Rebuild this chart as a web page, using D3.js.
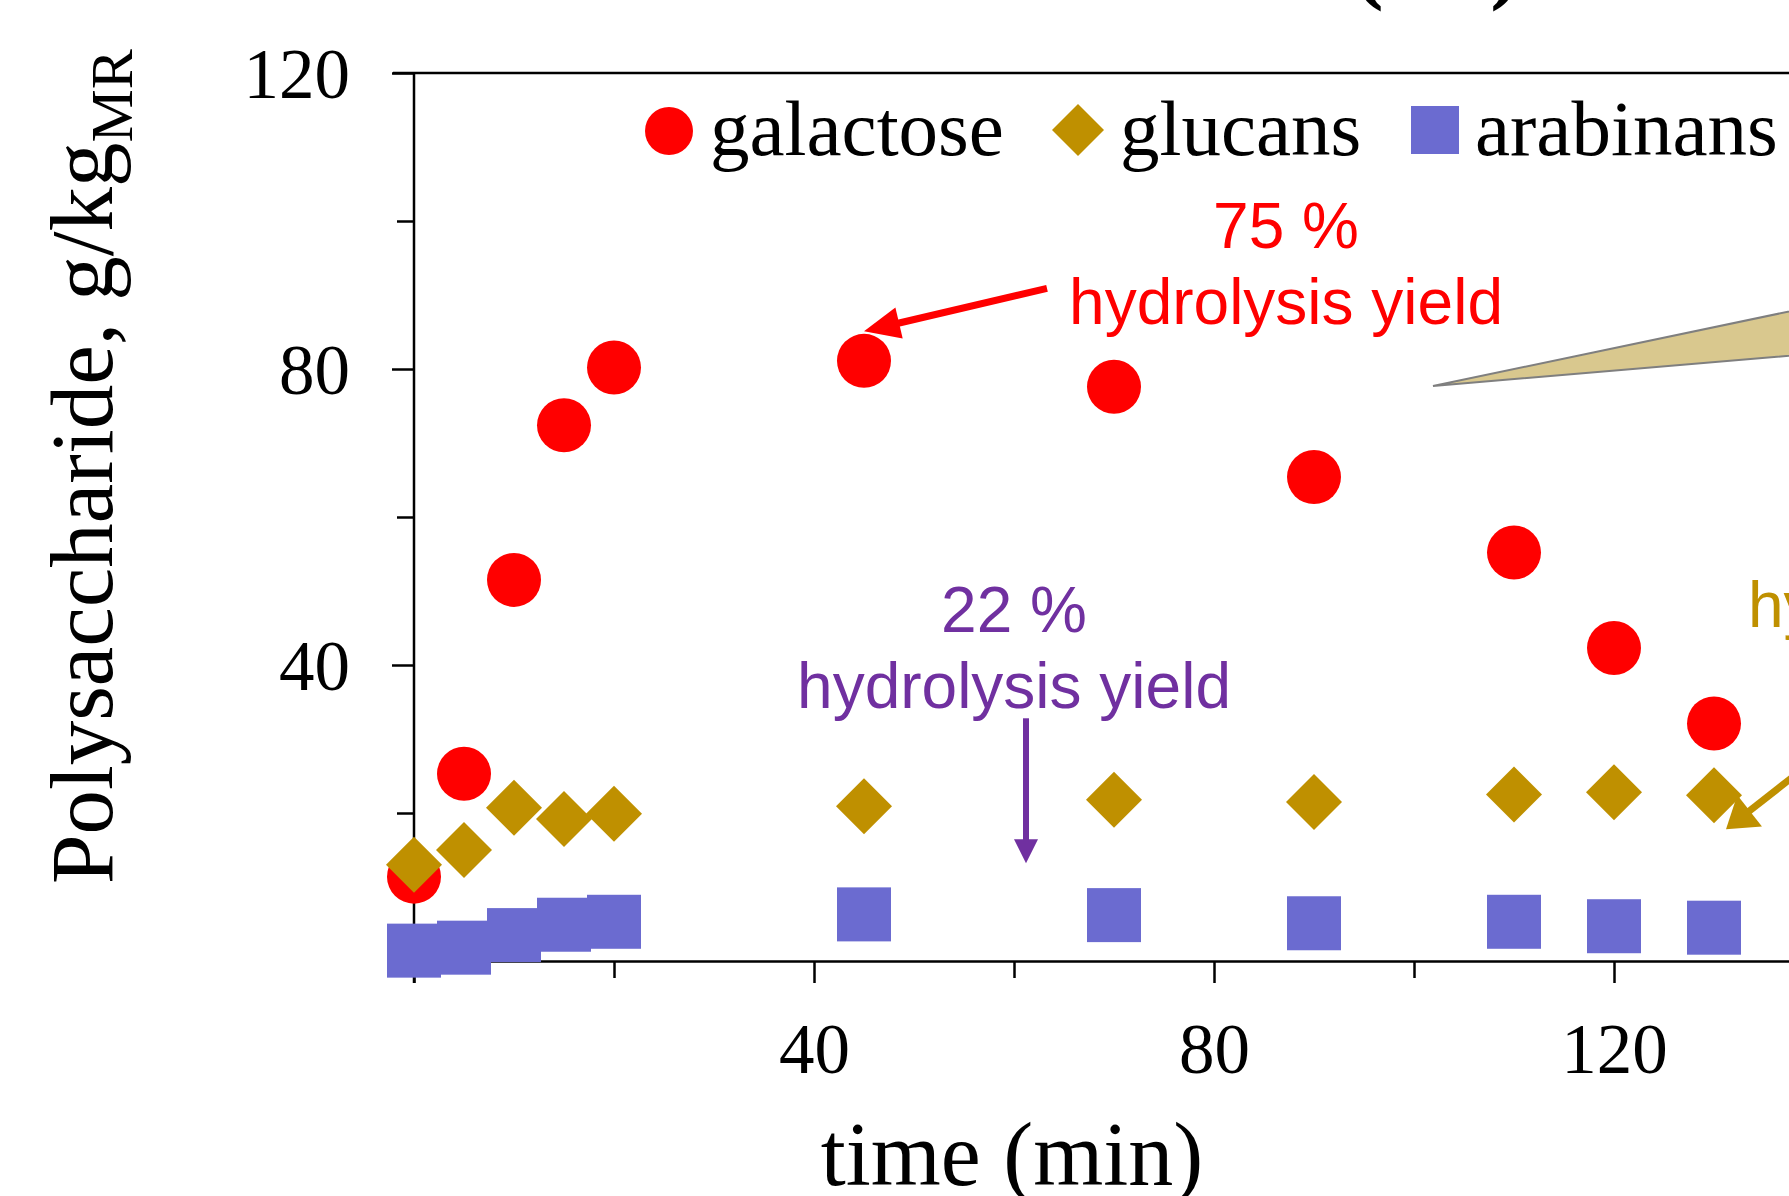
<!DOCTYPE html>
<html>
<head>
<meta charset="utf-8">
<script src="https://cdn.jsdelivr.net/npm/d3@7"></script>
<style>
  html, body { margin: 0; padding: 0; background: #fff; overflow: hidden; }
  svg { display: block; }
  .axis path, .axis line { stroke: #000; stroke-width: 2.5; }
  .axis text { font-family: "Liberation Serif", "Times New Roman", serif; fill: #000; }
</style>
</head>
<body>
<script>
// sampling times (min)
let times = [0, 5, 10, 15, 20, 45, 70, 90, 110, 120, 130];
// polysaccharide content, g/kg MR
let galactose = [11.4, 25.3, 51.5, 72.4, 80.2, 81.1, 77.6, 65.4, 55.2, 42.3, 32.1];
let glucans   = [13.0, 15.0, 20.7, 19.2, 19.9, 20.9, 21.8, 21.5, 22.5, 22.8, 22.4];
let arabinans = [1.4, 1.8, 3.5, 4.9, 5.3, 6.3, 6.2, 5.1, 5.3, 4.7, 4.5];

let xTicks = [0, 20, 40, 60, 80, 100, 120, 140];
let yTicks = [0, 20, 40, 60, 80, 100, 120];
let labelledTicks = [40, 80, 120];

let width = 1789, height = 1196;
let margin = {top: 73, left: 414, bottom: 235};

let x = d3.scaleLinear().domain([0, 140]).range([margin.left, margin.left + 1400]);
let y = d3.scaleLinear().domain([0, 120]).range([height - margin.bottom, margin.top]);

let svg = d3.select("body").append("svg")
    .attr("width", width)
    .attr("height", height);

// title, mostly cut off at the top of the figure
svg.append("text")
    .attr("x", 1353).attr("y", -8)
    .attr("textLength", 168).attr("lengthAdjust", "spacing")
    .style("font-family", "Liberation Serif, serif")
    .style("font-weight", "bold")
    .style("font-size", "92px")
    .text("(b)");

// frame line on top
svg.append("line")
    .attr("x1", x(0) - 21).attr("x2", width + 10)
    .attr("y1", y(120)).attr("y2", y(120))
    .attr("stroke", "#000").attr("stroke-width", 2.5);

// axes
let xAxis = svg.append("g")
    .attr("class", "axis")
    .attr("transform", "translate(0," + y(0) + ")")
    .call(d3.axisBottom(x).tickValues(xTicks).tickSizeOuter(0)
        .tickFormat(d => labelledTicks.indexOf(d) >= 0 ? d : ""));
xAxis.selectAll(".tick line").attr("y2", d => d % 40 == 0 ? 22 : 17);
xAxis.selectAll(".tick text")
    .attr("y", 112).attr("dy", 0)
    .style("font-size", "71px");

let yAxis = svg.append("g")
    .attr("class", "axis")
    .attr("transform", "translate(" + x(0) + ",0)")
    .call(d3.axisLeft(y).tickValues(yTicks).tickSizeOuter(0)
        .tickFormat(d => labelledTicks.indexOf(d) >= 0 ? d : ""));
yAxis.select(".domain").attr("d", "M0," + y(120) + "V" + (y(0) + 22));
yAxis.selectAll(".tick line").attr("x2", d => d % 40 == 0 ? -22 : -17);
yAxis.selectAll(".tick text")
    .attr("x", -64).attr("dy", "0.35em")
    .style("font-size", "71px");

// axis titles
svg.append("text")
    .attr("x", 1012).attr("y", 1185)
    .attr("text-anchor", "middle")
    .style("font-family", "Liberation Serif, serif")
    .style("font-size", "90px")
    .text("time (min)");

let ylab = svg.append("text")
    .attr("transform", "translate(112,884) rotate(-90)")
    .style("font-family", "Liberation Serif, serif")
    .style("font-size", "89px");
ylab.append("tspan").text("Polysaccharide, g/kg");
ylab.append("tspan").attr("dy", 20).style("font-size", "60px").text("MR");

// callout wedge coming from the right
let wedge = [[101.9, 77.7], [143.6, 89.5], [143.6, 82.5]];
svg.append("path")
    .attr("d", "M" + wedge.map(p => x(p[0]) + "," + y(p[1])).join("L") + "Z")
    .attr("fill", "#D9C88E")
    .attr("stroke", "#7F7F7F")
    .attr("stroke-width", 2);

// annotations: text lines and arrows (data coords)
let notes = [
    {lines: ["75 %", "hydrolysis yield"], at: [87.2, 96.4], anchor: "middle", color: "#FF0000"},
    {lines: ["22 %", "hydrolysis yield"], at: [60.0, 44.5], anchor: "middle", color: "#7030A0"},
    {lines: ["", "hydrolysis yield"], at: [133.4, 55.4], anchor: "start", color: "#BF9000"}
];
let arrows = [
    {from: [63.3, 90.9], to: [45.0, 85.1], color: "#FF0000", w: 7, hl: 36, hw: 16},
    {from: [61.2, 32.8], to: [61.2, 13.2], color: "#7030A0", w: 6, hl: 24, hw: 12},
    {from: [139.6, 26.7], to: [131.2, 17.8], color: "#BF9000", w: 7, hl: 30, hw: 20}
];

notes.forEach(n => {
    n.lines.forEach((l, i) => {
        svg.append("text")
            .attr("x", x(n.at[0]))
            .attr("y", y(n.at[1]) + i * 76)
            .attr("text-anchor", n.anchor)
            .attr("fill", n.color)
            .style("font-family", "Liberation Sans, Arial, sans-serif")
            .style("font-size", "64px")
            .text(l);
    });
});

arrows.forEach(a => {
    let x1 = x(a.from[0]), y1 = y(a.from[1]), x2 = x(a.to[0]), y2 = y(a.to[1]);
    let len = Math.hypot(x2 - x1, y2 - y1), ux = (x2 - x1) / len, uy = (y2 - y1) / len;
    let bx = x2 - ux * a.hl, by = y2 - uy * a.hl;
    svg.append("line")
        .attr("x1", x1).attr("y1", y1).attr("x2", bx + ux * 2).attr("y2", by + uy * 2)
        .attr("stroke", a.color).attr("stroke-width", a.w);
    svg.append("path")
        .attr("d", "M" + x2 + "," + y2 +
            "L" + (bx - uy * a.hw) + "," + (by + ux * a.hw) +
            "L" + (bx + uy * a.hw) + "," + (by - ux * a.hw) + "Z")
        .attr("fill", a.color);
});

// data markers
let rows = times.map((t, i) => ({t: t, gal: galactose[i], glu: glucans[i], ara: arabinans[i]}));

svg.append("g").selectAll("circle")
    .data(rows).join("circle")
    .attr("cx", d => x(d.t)).attr("cy", d => y(d.gal))
    .attr("r", 27)
    .attr("fill", "#FF0000");

let diamond = r => "M0," + (-r) + "L" + r + ",0L0," + r + "L" + (-r) + ",0Z";

svg.append("g").selectAll("path")
    .data(rows).join("path")
    .attr("transform", d => "translate(" + x(d.t) + "," + y(d.glu) + ")")
    .attr("d", diamond(28))
    .attr("fill", "#BF9000");

svg.append("g").selectAll("rect")
    .data(rows).join("rect")
    .attr("x", d => x(d.t) - 27).attr("y", d => y(d.ara) - 27)
    .attr("width", 54).attr("height", 54)
    .attr("fill", "#6B6BD0");

// legend
let legend = svg.append("g").style("font-family", "Liberation Serif, serif").style("font-size", "79px");
legend.append("circle").attr("cx", 669).attr("cy", 131).attr("r", 24).attr("fill", "#FF0000");
legend.append("text").attr("x", 710).attr("y", 155).text("galactose");
legend.append("path").attr("transform", "translate(1078,130)").attr("d", diamond(26)).attr("fill", "#BF9000");
legend.append("text").attr("x", 1120).attr("y", 155).text("glucans");
legend.append("rect").attr("x", 1411).attr("y", 106).attr("width", 48).attr("height", 48).attr("fill", "#6B6BD0");
legend.append("text").attr("x", 1475).attr("y", 155).text("arabinans");
</script>
</body>
</html>
